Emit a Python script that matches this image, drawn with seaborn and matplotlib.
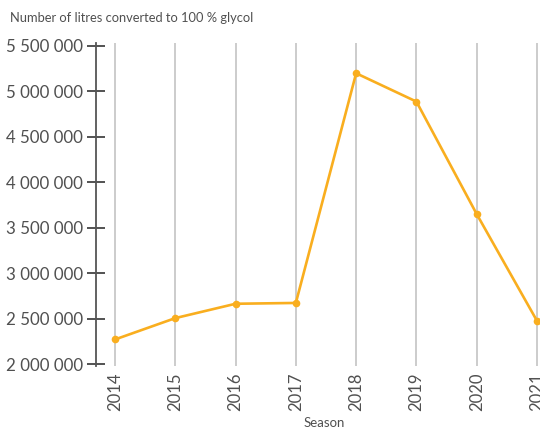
"""
Litres converted to 100 % glycol per season.
"""
import matplotlib.pyplot as plt
import matplotlib.ticker as mticker
import pandas as pd
import seaborn as sns

seasons = [2014, 2015, 2016, 2017, 2018, 2019, 2020, 2021]
litres = [2270000, 2505000, 2663000, 2672000, 5200000, 4888000, 3650000, 2475000]

LINE_COLOR = "#F9AE1F"
TEXT_COLOR = "#505050"

sns.set_style("white")
plt.rcParams['font.family'] = ['Lato', 'DejaVu Sans']

df = pd.DataFrame({'season': seasons, 'litres': litres})

fig = plt.figure(figsize=(5.4, 4.28), dpi=100)
ax = fig.add_axes([96 / 540, 62 / 428, 444 / 540, 323 / 428])

sns.lineplot(
    data=df, x='season', y='litres', ax=ax,
    color=LINE_COLOR, linewidth=1.9, marker='o', markersize=5.5,
    markeredgewidth=0, zorder=3
)

ax.set_xlim(2013.685, 2021.05)
ax.set_ylim(1978000, 5533000)
ax.set_xticks(seasons)
ax.set_yticks(range(2000000, 5500001, 500000))
ax.yaxis.set_major_formatter(
    mticker.FuncFormatter(lambda v, _: f"{v:,.0f}".replace(",", " "))
)

ax.grid(axis='x', color='#cccccc', linewidth=1.4)
ax.grid(axis='y', visible=False)
for side in ['top', 'right', 'bottom']:
    ax.spines[side].set_visible(False)
ax.spines['left'].set_color('#555555')
ax.spines['left'].set_linewidth(1.3)

ax.tick_params(axis='y', left=True, direction='inout', length=13, width=1.3,
               color='#444444', labelsize=12.2, labelcolor=TEXT_COLOR, pad=3)
ax.tick_params(axis='x', bottom=False, length=0, labelsize=12,
               labelcolor=TEXT_COLOR, labelrotation=90, pad=5)

ax.set_xlabel('Season', fontsize=9.5, color=TEXT_COLOR, labelpad=6)
ax.xaxis.set_label_coords(0.515, -0.158)
ax.set_ylabel('')
fig.text(10 / 540, 1 - 18 / 428, 'Number of litres converted to 100 % glycol',
         fontsize=9.3, color=TEXT_COLOR, va='center', ha='left')

fig.savefig('out.png', dpi=100)
